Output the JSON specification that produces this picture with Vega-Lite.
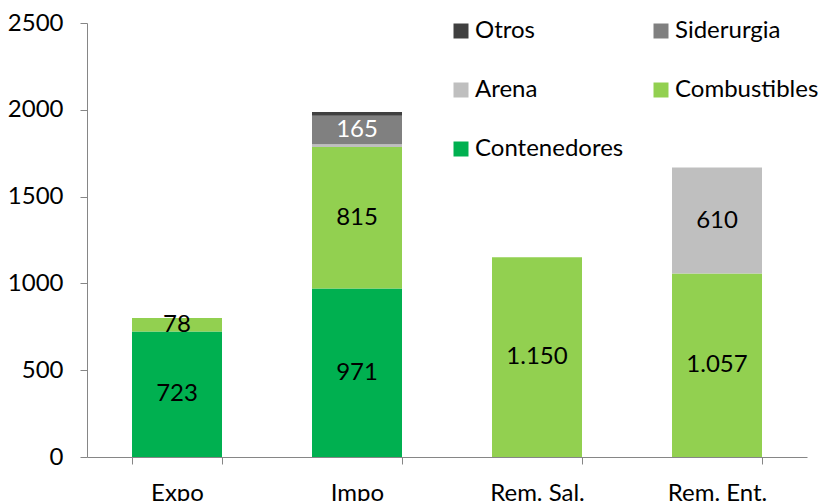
{
  "$schema": "https://vega.github.io/schema/vega-lite/v6.json",
  "width": 720,
  "height": 434,
  "autosize": "none",
  "padding": {"left": 87, "top": 23, "right": 20, "bottom": 44},
  "config": {
    "view": {"stroke": null},
    "font": "Lato"
  },
  "data": {
    "values": [
      {"cat": "Expo", "tipo": "Contenedores", "orden": 1, "valor": 723, "etiqueta": "723"},
      {"cat": "Expo", "tipo": "Combustibles", "orden": 2, "valor": 78, "etiqueta": "78"},
      {"cat": "Impo", "tipo": "Contenedores", "orden": 1, "valor": 971, "etiqueta": "971"},
      {"cat": "Impo", "tipo": "Combustibles", "orden": 2, "valor": 815, "etiqueta": "815"},
      {"cat": "Impo", "tipo": "Arena", "orden": 3, "valor": 15, "etiqueta": ""},
      {"cat": "Impo", "tipo": "Siderurgia", "orden": 4, "valor": 165, "etiqueta": "165"},
      {"cat": "Impo", "tipo": "Otros", "orden": 5, "valor": 22, "etiqueta": ""},
      {"cat": "Rem. Sal.", "tipo": "Combustibles", "orden": 2, "valor": 1150, "etiqueta": "1.150"},
      {"cat": "Rem. Ent.", "tipo": "Combustibles", "orden": 2, "valor": 1057, "etiqueta": "1.057"},
      {"cat": "Rem. Ent.", "tipo": "Arena", "orden": 3, "valor": 610, "etiqueta": "610"}
    ]
  },
  "transform": [
    {"stack": "valor", "groupby": ["cat"], "sort": [{"field": "orden", "order": "ascending"}], "as": ["y0", "y1"]},
    {"calculate": "(datum.y0 + datum.y1) / 2", "as": "ymid"}
  ],
  "encoding": {
    "x": {
      "field": "cat",
      "type": "nominal",
      "sort": ["Expo", "Impo", "Rem. Sal.", "Rem. Ent."],
      "scale": {"paddingInner": 0.5, "paddingOuter": 0.25},
      "axis": {
        "title": null,
        "labelAngle": 0,
        "labelFontSize": 24,
        "labelColor": "#000000",
        "labelPadding": 17,
        "tickBand": "extent",
        "tickSize": 7,
        "tickColor": "#868686",
        "domainColor": "#868686",
        "labelBaseline": "top"
      }
    }
  },
  "layer": [
    {
      "mark": {"type": "bar"},
      "encoding": {
        "y": {
          "field": "y0",
          "type": "quantitative",
          "scale": {"domain": [0, 2500], "nice": false},
          "axis": {
            "title": null,
            "values": [0, 500, 1000, 1500, 2000, 2500],
            "format": "d",
            "grid": false,
            "labelFontSize": 24,
            "labelColor": "#000000",
            "labelPadding": 17,
            "tickSize": 7,
            "tickColor": "#868686",
            "domainColor": "#868686"
          }
        },
        "y2": {"field": "y1"},
        "color": {
          "field": "tipo",
          "type": "nominal",
          "scale": {
            "domain": ["Otros", "Siderurgia", "Arena", "Combustibles", "Contenedores"],
            "range": ["#404040", "#808080", "#BFBFBF", "#92D050", "#00B050"]
          },
          "legend": {
            "title": null,
            "orient": "none",
            "direction": "horizontal",
            "legendX": 362,
            "legendY": -4,
            "columns": 2,
            "columnPadding": 25,
            "rowPadding": 35,
            "symbolType": "square",
            "symbolSize": 225,
            "symbolStrokeWidth": 0,
            "labelFontSize": 24,
            "labelLimit": 300,
            "labelColor": "#000000",
            "labelOffset": 2,
            "padding": 0
          }
        }
      }
    },
    {
      "mark": {"type": "text", "fontSize": 24, "baseline": "middle", "align": "center"},
      "encoding": {
        "y": {"field": "ymid", "type": "quantitative"},
        "text": {"field": "etiqueta"},
        "color": {
          "condition": {"test": "datum.tipo === 'Siderurgia'", "value": "#FFFFFF"},
          "value": "#000000"
        }
      }
    }
  ]
}
